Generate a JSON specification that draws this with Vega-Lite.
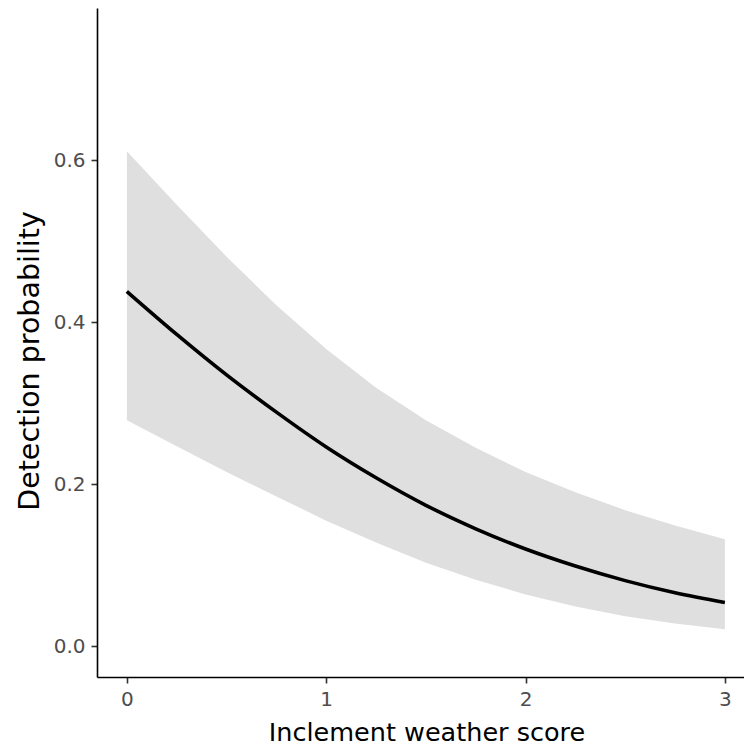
{
  "$schema": "https://vega.github.io/schema/vega-lite/v6.json",
  "autosize": {"type": "none"},
  "padding": {"left": 97, "top": 8, "right": 0, "bottom": 69},
  "width": 647,
  "height": 669,
  "background": "white",
  "config": {
    "view": {"stroke": null},
    "font": "DejaVu Sans",
    "axis": {
      "grid": false,
      "domainColor": "black",
      "domainWidth": 1.6,
      "tickColor": "#333333",
      "tickWidth": 1.6,
      "tickSize": 6,
      "labelColor": "#4d4d4d",
      "labelFont": "DejaVu Sans",
      "labelFontSize": 20,
      "labelPadding": 6,
      "titleColor": "black",
      "titleFont": "DejaVu Sans",
      "titleFontWeight": "normal"
    }
  },
  "data": {
    "values": [
      {"x": 0.0, "fit": 0.438, "lower": 0.279, "upper": 0.611},
      {"x": 0.25, "fit": 0.385, "lower": 0.247, "upper": 0.545},
      {"x": 0.5, "fit": 0.335, "lower": 0.215, "upper": 0.481},
      {"x": 0.75, "fit": 0.289, "lower": 0.185, "upper": 0.421},
      {"x": 1.0, "fit": 0.246, "lower": 0.155, "upper": 0.367},
      {"x": 1.25, "fit": 0.208, "lower": 0.128, "upper": 0.319},
      {"x": 1.5, "fit": 0.174, "lower": 0.103, "upper": 0.279},
      {"x": 1.75, "fit": 0.145, "lower": 0.082, "upper": 0.245},
      {"x": 2.0, "fit": 0.120, "lower": 0.064, "upper": 0.215},
      {"x": 2.25, "fit": 0.099, "lower": 0.049, "upper": 0.190},
      {"x": 2.5, "fit": 0.081, "lower": 0.037, "upper": 0.168},
      {"x": 2.75, "fit": 0.066, "lower": 0.028, "upper": 0.149},
      {"x": 3.0, "fit": 0.054, "lower": 0.021, "upper": 0.132}
    ]
  },
  "encoding": {
    "x": {
      "field": "x",
      "type": "quantitative",
      "scale": {"domain": [-0.15, 3.096], "nice": false, "zero": false},
      "axis": {
        "title": "Inclement weather score",
        "titleFontSize": 25.5,
        "values": [0, 1, 2, 3],
        "format": "d",
        "titleX": 329.5,
        "titleY": 63,
        "titleAlign": "center",
        "titleBaseline": "alphabetic"
      }
    }
  },
  "layer": [
    {
      "mark": {"type": "area", "color": "#dfdfdf", "opacity": 1, "clip": true},
      "encoding": {
        "y": {
          "field": "lower",
          "type": "quantitative",
          "scale": {"domain": [-0.038, 0.788], "nice": false, "zero": false},
          "axis": {
            "title": "Detection probability",
            "titleFontSize": 28.5,
            "values": [0, 0.2, 0.4, 0.6],
            "format": ".1f",
            "titleX": -59,
            "titleY": 352.5,
            "titleAlign": "center",
            "titleBaseline": "alphabetic",
            "titleAngle": -90
          }
        },
        "y2": {"field": "upper"}
      }
    },
    {
      "mark": {"type": "line", "color": "black", "strokeWidth": 3.6, "interpolate": "monotone", "clip": true},
      "encoding": {
        "y": {"field": "fit", "type": "quantitative"}
      }
    }
  ]
}
